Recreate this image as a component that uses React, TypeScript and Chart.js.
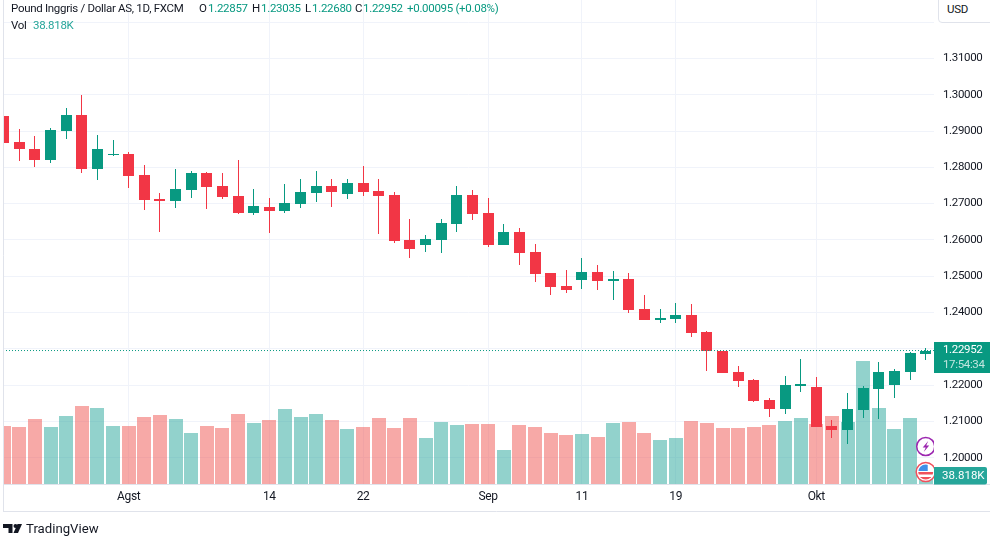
// App.tsx
import React, { useEffect, useRef } from 'react';
import { Chart, registerables } from 'chart.js';

Chart.register(...registerables);

const UP = '#089981';
const DOWN = '#F23645';
const FONT = 'Roboto, sans-serif';

const opens = [
  1.29402, 1.28685, 1.28493, 1.2819, 1.28988, 1.29429, 1.27942, 1.28327, 1.28355, 1.27776,
  1.27115, 1.2706, 1.27363, 1.27831, 1.27473, 1.27198, 1.26729, 1.26895, 1.26785, 1.26977,
  1.2728, 1.27474, 1.27254, 1.27557, 1.27336, 1.27226, 1.25987, 1.25849, 1.25987, 1.26427,
  1.27226, 1.2673, 1.25849, 1.26207, 1.25656, 1.25077, 1.24719, 1.24885, 1.25105, 1.24857,
  1.24912, 1.24086, 1.23783, 1.2381, 1.2392, 1.23452, 1.22947, 1.2235, 1.2213, 1.21579,
  1.21331, 1.21964, 1.21937, 1.20862, 1.20752, 1.21303, 1.21882, 1.21992, 1.2235, 1.22857,
];
const closes = [
  1.28658, 1.28493, 1.2819, 1.29016, 1.29429, 1.27942, 1.28493, 1.28355, 1.27749, 1.27088,
  1.2706, 1.27391, 1.27831, 1.27446, 1.2717, 1.26729, 1.26922, 1.26785, 1.27005, 1.27308,
  1.27473, 1.27309, 1.27557, 1.27309, 1.27199, 1.25959, 1.25739, 1.26014, 1.26455, 1.27226,
  1.26703, 1.25849, 1.26207, 1.25628, 1.2505, 1.24692, 1.24609, 1.25105, 1.24857, 1.24912,
  1.24058, 1.23783, 1.23838, 1.2392, 1.23424, 1.22929, 1.22322, 1.22102, 1.21551, 1.21331,
  1.21992, 1.22019, 1.20835, 1.20752, 1.21331, 1.21909, 1.2235, 1.22378, 1.22873, 1.22952,
];
const highs = [
  1.2965, 1.29044, 1.28851, 1.29071, 1.29622, 1.2998, 1.28878, 1.28741, 1.2841, 1.28052,
  1.2728, 1.27942, 1.27887, 1.27859, 1.27831, 1.2819, 1.27391, 1.27143, 1.27528, 1.27666,
  1.27887, 1.27667, 1.27667, 1.28025, 1.27667, 1.27309, 1.26565, 1.26124, 1.26565, 1.27474,
  1.27364, 1.27144, 1.26427, 1.26317, 1.25876, 1.25077, 1.2516, 1.25491, 1.25298, 1.25133,
  1.25077, 1.24471, 1.24104, 1.24251, 1.24223, 1.2348, 1.22947, 1.22515, 1.22157, 1.21634,
  1.2224, 1.22708, 1.22212, 1.21028, 1.21771, 1.21964, 1.22625, 1.22433, 1.22901, 1.23035,
];
const lows = [
  1.28419, 1.28162, 1.27997, 1.28107, 1.28768, 1.27831, 1.27639, 1.283, 1.27418, 1.26812,
  1.26206, 1.26867, 1.27143, 1.2684, 1.27115, 1.26702, 1.26674, 1.26179, 1.26729, 1.26867,
  1.27033, 1.26896, 1.27116, 1.27199, 1.26152, 1.25904, 1.25491, 1.25656, 1.25628, 1.26207,
  1.26538, 1.25794, 1.25849, 1.25298, 1.2483, 1.24471, 1.24527, 1.24637, 1.24609, 1.24334,
  1.23976, 1.23783, 1.237, 1.237, 1.23314, 1.22378, 1.22322, 1.21937, 1.21524, 1.2111,
  1.21193, 1.21799, 1.20835, 1.20532, 1.20366, 1.21083, 1.21055, 1.21634, 1.2213, 1.2268,
];
// volume in thousands
const volumes = [
  271, 267, 304, 267, 318, 365, 355, 271, 271, 313,
  323, 304, 239, 271, 262, 327, 285, 299, 351, 313,
  327, 299, 257, 267, 309, 262, 309, 215, 290, 276,
  281, 281, 159, 276, 267, 239, 229, 234, 220, 285,
  290, 239, 206, 215, 295, 285, 262, 262, 267, 276,
  295, 309, 281, 318, 290, 575, 355, 257, 309, 38.818,
];

const priceTicks = [1.2, 1.21, 1.22, 1.23, 1.24, 1.25, 1.26, 1.27, 1.28, 1.29, 1.3, 1.31, 1.32];
const dateTickIndex = [8, 17, 23, 31, 37, 43, 52];
const dateTickLabels = ['Agst', '14', '22', 'Sep', '11', '19', 'Okt'];

const lastPrice = 1.22952;
const lastVolume = 38.818;

const xMin = -0.04;
const xMax = 59.53;

const isUp = (i: number) => closes[i] >= opens[i];

// candles and volume pixels get snapped so the edges stay crisp like the original
const snapPlugin = {
  id: 'snap',
  afterDatasetsUpdate(chart: any) {
    chart.data.datasets.forEach((ds: any, di: number) => {
      if (ds.type !== 'bar') return;
      chart.getDatasetMeta(di).data.forEach((el: any) => {
        el.x = ds.label === 'Vol' ? Math.round(el.x) : Math.floor(el.x) + 0.5;
        el.y = Math.round(el.y);
        el.base = Math.round(el.base);
        if (el.y === el.base) el.y -= 1;
      });
    });
  },
  // tighter digits, Roboto runs wider than the original font
  beforeDraw(chart: any) {
    chart.ctx.letterSpacing = '-0.35px';
  },
};

const framePlugin = {
  id: 'frame',
  afterDraw(chart: any) {
    const { ctx } = chart;
    const area = chart.chartArea;
    const y = chart.scales.y;
    const vol = chart.scales.vol;
    const lastX = chart.scales.x.getPixelForValue(opens.length - 1);

    ctx.save();
    ctx.beginPath();
    ctx.rect(area.left, area.top, area.right - area.left, area.bottom - area.top);
    ctx.clip();

    // events icon
    ctx.beginPath();
    ctx.arc(lastX, 446.5, 9, 0, Math.PI * 2);
    ctx.fillStyle = '#fff';
    ctx.fill();
    ctx.lineWidth = 1.5;
    ctx.strokeStyle = '#9c27b0';
    ctx.stroke();
    ctx.beginPath();
    ctx.moveTo(lastX + 2.5, 441);
    ctx.lineTo(lastX - 3, 447.5);
    ctx.lineTo(lastX, 447.5);
    ctx.lineTo(lastX - 2, 452);
    ctx.lineTo(lastX + 3.5, 445.5);
    ctx.lineTo(lastX + 0.5, 445.5);
    ctx.closePath();
    ctx.fillStyle = '#9c27b0';
    ctx.fill();

    // flag icon
    ctx.beginPath();
    ctx.arc(lastX, 472, 9.5, 0, Math.PI * 2);
    ctx.fillStyle = '#fff';
    ctx.fill();
    ctx.lineWidth = 1.5;
    ctx.strokeStyle = '#f0505c';
    ctx.stroke();
    ctx.save();
    ctx.beginPath();
    ctx.arc(lastX, 472, 7.5, 0, Math.PI * 2);
    ctx.clip();
    ctx.fillStyle = '#f0505c';
    ctx.fillRect(lastX - 8, 472, 16, 2.5);
    ctx.fillRect(lastX - 8, 477, 16, 3);
    ctx.fillStyle = '#3f8fe8';
    ctx.fillRect(lastX - 8, 464, 10, 7);
    ctx.restore();
    ctx.restore();

    ctx.save();
    ctx.strokeStyle = '#e0e3eb';
    ctx.lineWidth = 1;
    ctx.beginPath();
    ctx.moveTo(3.5, 0);
    ctx.lineTo(3.5, 511.5);
    ctx.moveTo(3, 484.5);
    ctx.lineTo(990, 484.5);
    ctx.moveTo(3, 511.5);
    ctx.lineTo(990, 511.5);
    ctx.stroke();

    // last price box
    const py = y.getPixelForValue(lastPrice);
    ctx.fillStyle = UP;
    ctx.fillRect(area.right, Math.floor(py) - 8, 56, 31);
    ctx.font = `11.5px ${FONT}`;
    ctx.textBaseline = 'middle';
    ctx.textAlign = 'left';
    ctx.fillStyle = '#fff';
    ctx.fillText(lastPrice.toFixed(5), area.right + 9, py);
    ctx.fillStyle = 'rgba(255,255,255,0.75)';
    ctx.fillText('17:54:34', area.right + 9, py + 15);

    // last volume box
    const vy = vol.getPixelForValue(lastVolume);
    ctx.fillStyle = '#26a69a';
    ctx.beginPath();
    ctx.roundRect(area.right, Math.round(vy) - 9, 53, 17.5, [0, 2, 2, 0]);
    ctx.fill();
    ctx.fillStyle = '#fff';
    ctx.letterSpacing = '0px';
    ctx.fillText('38.818K', area.right + 8, vy);
    ctx.restore();
  },
};

const legendTop = [
  { text: 'Pound Inggris / Dollar AS, 1D, FXCM', left: 11, color: '#131722' },
  { text: 'O', left: 199, color: '#131722' },
  { text: '1.22857', left: 208, color: UP },
  { text: 'H', left: 252, color: '#131722' },
  { text: '1.23035', left: 261, color: UP },
  { text: 'L', left: 305, color: '#131722' },
  { text: '1.22680', left: 312, color: UP },
  { text: 'C', left: 355, color: '#131722' },
  { text: '1.22952', left: 363, color: UP },
  { text: '+0.00095 (+0.08%)', left: 407, color: UP },
];

const App: React.FC = () => {
  const canvasRef = useRef<HTMLCanvasElement | null>(null);

  useEffect(() => {
    const ctx = canvasRef.current?.getContext('2d');
    if (!ctx) return;

    const idx = opens.map((_, i) => i);
    const candleColors = idx.map((i) => (isUp(i) ? UP : DOWN));
    const volumeColors = idx.map((i) => (isUp(i) ? 'rgba(38,166,154,0.5)' : 'rgba(239,83,80,0.5)'));

    const chart = new Chart(ctx, {
      type: 'bar',
      data: {
        datasets: [
          {
            type: 'line',
            label: 'Last',
            data: [
              { x: xMin, y: lastPrice },
              { x: xMax, y: lastPrice },
            ],
            yAxisID: 'y',
            borderColor: UP,
            borderWidth: 1,
            borderDash: [1, 2],
            pointRadius: 0,
            order: 0,
          },
          {
            type: 'bar',
            label: 'Body',
            data: idx.map((i) => ({ x: i, y: [opens[i], closes[i]] })),
            yAxisID: 'y',
            backgroundColor: candleColors,
            barThickness: 11,
            grouped: false,
            inflateAmount: 0,
            order: 1,
          },
          {
            type: 'bar',
            label: 'Wick',
            data: idx.map((i) => ({ x: i, y: [lows[i], highs[i]] })),
            yAxisID: 'y',
            backgroundColor: candleColors,
            barThickness: 1,
            grouped: false,
            inflateAmount: 0,
            order: 2,
          },
          {
            type: 'bar',
            label: 'Vol',
            data: idx.map((i) => ({ x: i, y: volumes[i] })),
            yAxisID: 'vol',
            backgroundColor: volumeColors,
            barThickness: 14,
            grouped: false,
            inflateAmount: 0,
            order: 3,
          },
        ] as any,
      },
      options: {
        responsive: false,
        animation: false,
        devicePixelRatio: 1,
        layout: { padding: { left: 3, top: 0, right: 0, bottom: 0 } },
        plugins: { legend: { display: false }, tooltip: { enabled: false }, title: { display: false } },
        scales: {
          x: {
            type: 'linear',
            offset: false,
            min: xMin,
            max: xMax,
            afterBuildTicks: (scale: any) => {
              scale.ticks = dateTickIndex.map((value) => ({ value }));
            },
            afterFit: (scale: any) => {
              scale.height = 63;
              scale.paddingLeft = 0;
              scale.paddingRight = 0;
            },
            grid: { color: '#f0f3fa', drawTicks: false, offset: false },
            border: { display: false },
            ticks: {
              autoSkip: false,
              maxRotation: 0,
              padding: 6,
              color: '#131722',
              font: { family: FONT, size: 12 },
              callback: (value: any) => dateTickLabels[dateTickIndex.indexOf(value)],
            },
          },
          y: {
            type: 'linear',
            position: 'right',
            min: 1.19275,
            max: 1.32609,
            afterBuildTicks: (scale: any) => {
              scale.ticks = priceTicks.map((value) => ({ value }));
            },
            afterFit: (scale: any) => {
              scale.width = 56;
              scale.paddingTop = 0;
              scale.paddingBottom = 0;
            },
            grid: { color: '#f0f3fa', drawTicks: false },
            border: { display: false },
            ticks: {
              autoSkip: false,
              padding: 9,
              color: '#131722',
              font: { family: FONT, size: 11.5 },
              callback: (value: any) => (value > 1.315 ? '' : Number(value).toFixed(5)),
            },
          },
          // volume pane sits on the same area, hidden axis
          vol: {
            type: 'linear',
            display: false,
            min: 0,
            max: 2264,
          },
        },
      },
      plugins: [snapPlugin, framePlugin],
    } as any);

    return () => {
      chart.destroy();
    };
  }, []);

  const textStyle: React.CSSProperties = {
    position: 'absolute',
    whiteSpace: 'nowrap',
    fontFamily: FONT,
    fontSize: 11.5,
    letterSpacing: '-0.3px',
    lineHeight: '14px',
  };

  return (
    <div style={{ position: 'fixed', left: 0, top: 0, width: 990, height: 547, background: '#fff', overflow: 'hidden' }}>
      <canvas ref={canvasRef} width={990} height={547} style={{ display: 'block' }} />
      {legendTop.map((item) => (
        <span key={item.left} style={{ ...textStyle, left: item.left, top: 1, color: item.color }}>
          {item.text}
        </span>
      ))}
      <span style={{ ...textStyle, left: 11, top: 18, color: '#131722' }}>Vol</span>
      <span style={{ ...textStyle, left: 33, top: 18, color: '#26a69a' }}>38.818K</span>
      <div
        style={{
          position: 'absolute',
          left: 938,
          top: -1,
          width: 53,
          height: 22,
          background: '#fff',
          border: '1px solid #e0e3eb',
          borderBottomLeftRadius: 4,
        }}
      />
      <span style={{ ...textStyle, left: 947, top: 2, color: '#131722' }}>USD</span>
      <svg style={{ position: 'absolute', left: 0, top: 0 }} width={30} height={547}>
        <path d="M3 524h9.5v9h-4v-5H3z" fill="#131722" />
        <circle cx={15.5} cy={526} r={2} fill="#131722" />
        <path d="M22 524l-4 9h-4.5l4-9z" fill="#131722" />
      </svg>
      <span style={{ ...textStyle, left: 26, top: 521, fontSize: 13.2, letterSpacing: 0, lineHeight: '16px', color: '#131722' }}>TradingView</span>
    </div>
  );
};

export default App;
